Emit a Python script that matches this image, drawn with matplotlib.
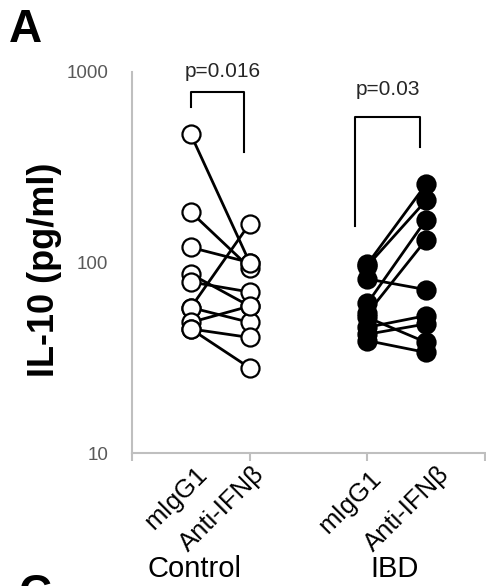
import matplotlib
matplotlib.use("Agg")
import matplotlib.pyplot as plt
from matplotlib.transforms import blended_transform_factory

plt.rcParams['font.family'] = ['Liberation Sans', 'DejaVu Sans']

# IL-10 (pg/ml), paired samples: mIgG1 -> Anti-IFNb
control_migg1 = [470, 184, 120, 87, 79, 58, 58, 48.5, 44.8, 44.8]
control_anti = [100, 94, 100, 59, 70, 160, 48.5, 59, 40.4, 28]
ibd_migg1 = [98, 96, 82, 61, 54, 51.5, 45.7, 42, 38.9]
ibd_anti = [258, 212, 72, 168, 132, 38.1, 52.6, 47.6, 33.7]

groups = ["Control", "IBD"]
conditions = ["mIgG1", "Anti-IFNβ"]
p_values = ["p=0.016", "p=0.03"]

# x positions of the two conditions in each group
group_x = [(0.5, 1.0), (2.0, 2.5)]

fig = plt.figure(figsize=(4.86, 5.86), dpi=100)
ax = fig.add_axes([132 / 486, 133 / 586, 353 / 486, 381 / 586])

def draw_pairs(before, after, xs, face):
    for a, b in zip(before, after):
        ax.plot(xs, [a, b], '-o', color='black', lw=2, ms=13,
                mfc=face, mec='black', mew=1.6, zorder=3)

draw_pairs(control_migg1, control_anti, group_x[0], 'white')
draw_pairs(ibd_migg1, ibd_anti, group_x[1], 'black')

ax.set_yscale('log')
ax.set_ylim(10, 1000)
ax.set_xlim(0, 3)
ax.set_yticks([10, 100, 1000])
ax.set_yticklabels(['10', '100', '1000'])
ax.minorticks_off()
ax.set_xticks([0, 1, 2, 3])
ax.set_xticklabels([])
ax.tick_params(axis='y', length=0, pad=17, labelsize=13.5, labelcolor='#595959')
ax.tick_params(axis='x', length=6, width=1.5, color='#bfbfbf', direction='out')
for side in ['top', 'right']:
    ax.spines[side].set_visible(False)
for side in ['left', 'bottom']:
    ax.spines[side].set_color('#bfbfbf')
    ax.spines[side].set_linewidth(1.5)

# significance brackets: (x left, x right, y top, y left end, y right end)
brackets = [(0.5, 0.95, 782, 657, 381), (1.895, 2.45, 578, 155, 402)]
p_pos = [(0.775, 945), (2.175, 757)]
for (xl, xr, yt, yl, yr), (px, py), txt in zip(brackets, p_pos, p_values):
    ax.plot([xl, xl, xr, xr], [yl, yt, yt, yr], color='black', lw=1.5,
            clip_on=False, zorder=2)
    ax.text(px, py, txt, ha='center', va='baseline', fontsize=15,
            color='#262626', clip_on=False)

# category labels under the axis
trans = blended_transform_factory(ax.transData, ax.transAxes)
label_x = [(0.646, 1.138), (2.133, 2.71)]
label_y = [(-0.060, -0.060), (-0.071, -0.060)]
for lx, ly in zip(label_x, label_y):
    for x, y, cond in zip(lx, ly, conditions):
        ax.text(x, y, cond, transform=trans, rotation=45, rotation_mode='anchor',
                ha='right', va='baseline', fontsize=18.5, color='black')

group_label_x = [0.527, 2.23]
for gx, g in zip(group_label_x, groups):
    ax.text(gx, -0.325, g, transform=trans, ha='center', va='baseline',
            fontsize=21, color='black')

fig.text(44 / 486, 1 - 270 / 586, 'IL-10 (pg/ml)', rotation=90, ha='center',
         va='center', fontsize=26, fontweight='bold')
fig.text(9 / 486, 1 - 42 / 586, 'A', ha='left', va='baseline', fontsize=33,
         fontweight='bold')
# top of the next panel letter, cut by the lower edge as in the source figure
fig.text(18 / 486, 1 - 607 / 586, 'C', ha='left', va='baseline', fontsize=33,
         fontweight='bold')

fig.savefig('out.png', dpi=100)
